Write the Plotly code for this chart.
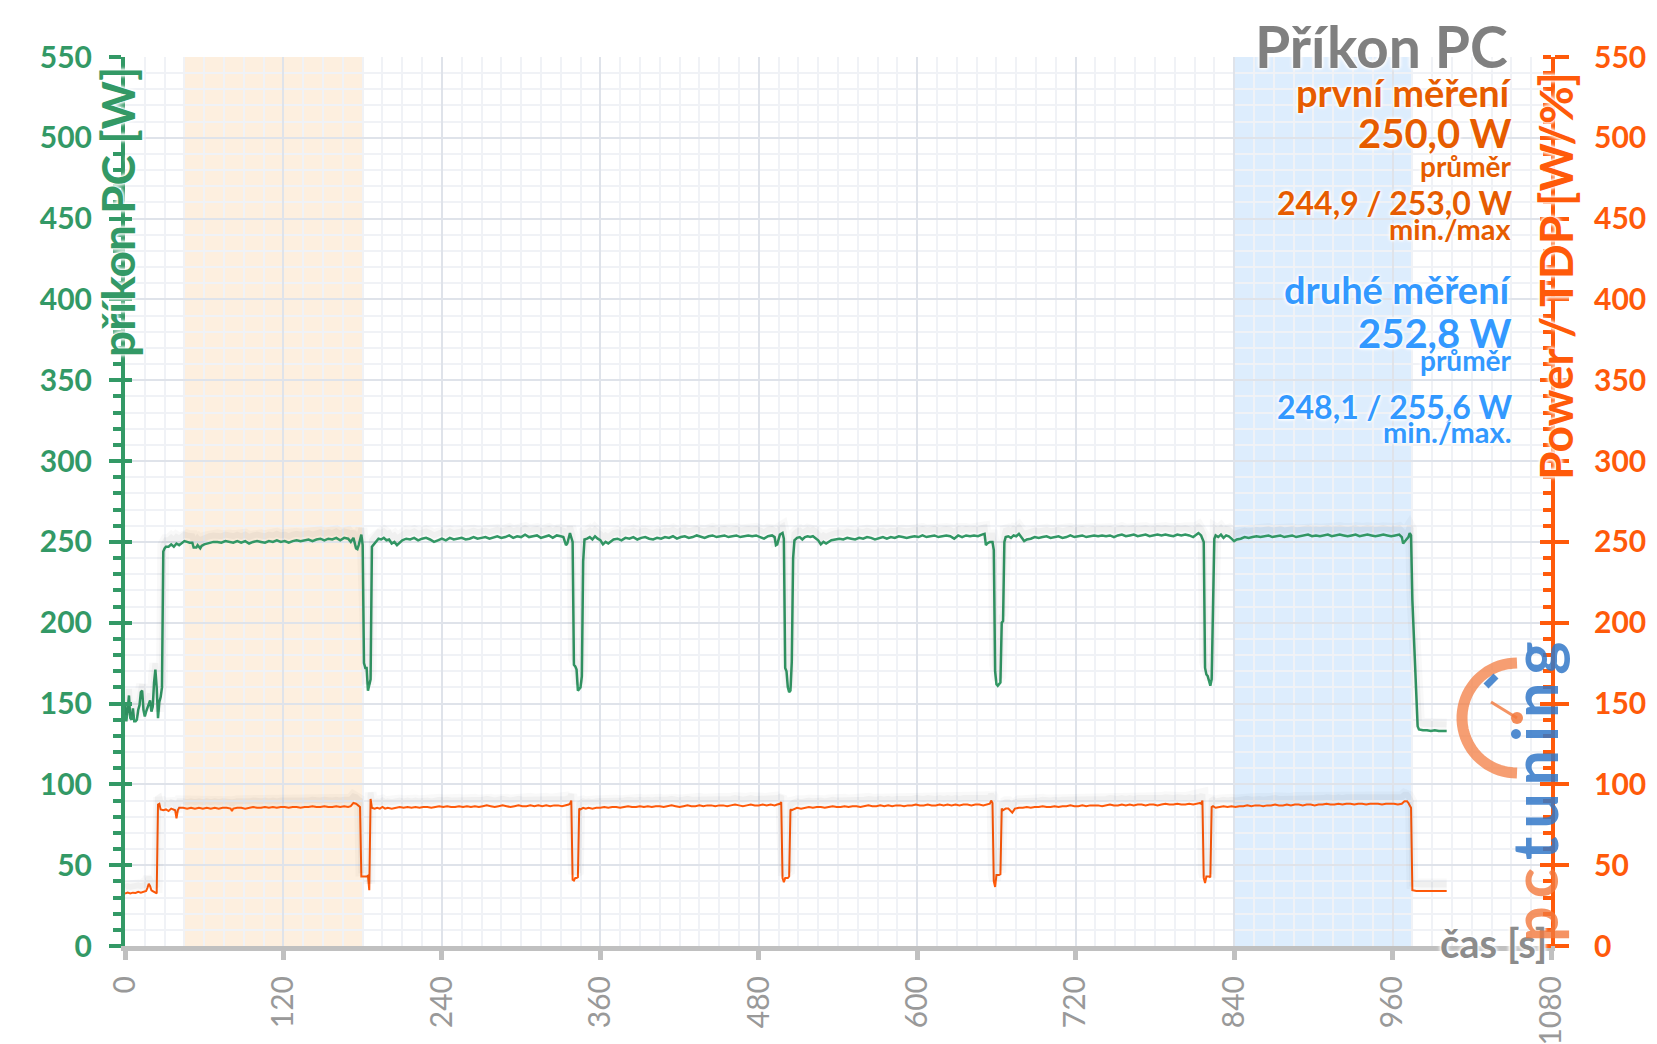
import numpy as np
import plotly.graph_objects as go

# ---------------- data ----------------
green_pts = [
 (0,150),(1,139),(2,146),(3,155),(4,141),(5,140),(6,147),(7,139),(8,139),(9,140),(10,146),(11,149),(12,157),(13,158),
 (14,146),(15,142),(16,145),(17,147),(18,150),(19,152),(20,145),(21,148),(22,163),(23,171),(24,160),(25,141),(26,151),
 (27,154),(28,160),
 (29,244),(30,246),(31,247),(33,247),(35,248.5),(37,247),(39,249),(41,248),(43,249.5),(45,250.5),(47,250),(49,249.5),
 (51,249.5),(52,246.5),(54,246.5),(55,248),(57,246),(58,247.5),(60,248.5),(62,249),(64,249.5),(67,250),(70,250),
 (73,249.5),(76,250.5),(79,250),(82,249.5),(85,250.5),(88,249.5),(91,250.5),(94,249),(97,250),(100,250.5),(103,250),
 (106,249.5),(109,250.5),(112,250),(115,251),(118,250),(121,250.5),(124,249.5),(127,250.5),(130,251),(133,250.5),
 (136,251),(139,251.5),(142,250.5),(145,251.5),(148,252),(151,251),(154,252),(157,251.5),(160,252.5),(163,251),
 (166,252.5),(169,252),(171,250),(173,252.5),(175,246),(176,245.5),(177,248),(178,252),(179,254.5),(180,248),
 (181,175),(182,172),(183,172),(184,158),(185,162),(186,165),(187,247),
 (188,248),(190,250),(192,252),(194,251.5),(196,252.5),(198,251),(200,251.5),(202,249),(204,250),(206,248),(208,249.5),
 (210,251),(213,252),(216,251.5),(219,252.5),(222,251),(225,252),(228,252.5),(231,251.5),(234,250),(237,251),(240,252),
 (243,251),(246,252.5),(249,251.5),(252,252),(255,252.5),(258,251.5),(261,252),(264,253),(267,252),(270,252.5),
 (273,253),(276,252),(279,253),(282,253.5),(285,252.5),(288,253),(291,254),(294,252.5),(297,253.5),(300,253),
 (303,254.5),(306,253),(309,253.5),(312,254),(315,252.5),(318,253.5),(321,254),(324,252.5),(327,254),(330,253.5),
 (332,253),(334,248),(335,249),(337,255.5),(338,253),(339,250),(340,174),(341,173),(342,171),(343,158),(345,160),
 (346,167),(347,238),(348,251.5),
 (350,252),(352,253),(354,251.5),(356,253.5),(358,252),(360,251),(362,248.5),(364,250),(366,249),(368,250.5),
 (370,251.5),(373,252),(376,251),(379,252.5),(382,252),(385,253),(388,251.5),(391,252.5),(394,253),(397,252),
 (400,251.5),(403,252.5),(406,252),(409,253),(412,252.5),(415,253.5),(418,252),(421,253),(424,253.5),(427,252.5),
 (430,253),(433,254),(436,253),(439,252.5),(442,253.5),(445,254),(448,253),(451,253.5),(454,254),(457,253),
 (460,253.5),(463,254),(466,253),(469,253.5),(472,254),(475,253.5),(478,254),(481,253),(484,252),(487,253.5),
 (490,254),(492,253),(493,248),(494,248.5),(496,254.5),(498,255.5),(499,252),(500,172),(501,170),(502,160),
 (503,157),(504,158),(505,176),(506,240),(507,251),
 (509,252.5),(511,253),(513,251.5),(515,253),(517,253.5),(519,253),(521,253.5),(523,252.5),(525,251),(527,248.5),
 (529,250),(531,249),(533,250),(535,251),(538,251.5),(541,252),(544,251.5),(547,252.5),(550,252),(553,251.5),
 (556,252.5),(559,252),(562,253),(565,252.5),(568,251.5),(571,252.5),(574,253),(577,252),(580,253),(583,252.5),
 (586,253.5),(589,253),(592,252.5),(595,253),(598,253.5),(601,253),(604,254),(607,253),(610,253.5),(613,254),
 (616,253),(619,253.5),(622,254),(625,253.5),(628,252),(631,254),(634,253),(637,254),(640,253.5),(643,254),
 (646,253.5),(649,254.5),(651,255),(652,248),(653,249),(655,250),(657,250),(658,245),(659,170),(660,162),(661,161),
 (662,162),(663,163),(664,200),(665,201),(666,250),(667,253),
 (669,253.5),(671,252.5),(673,254),(675,253.5),(677,255),(679,253),(681,250.5),(683,251.5),(686,252),(689,253),
 (692,252.5),(695,253),(698,253.5),(701,252.5),(704,253),(707,253.5),(710,252.5),(713,253),(716,254),(719,253),
 (722,253.5),(725,254),(728,253),(731,253.5),(734,254),(737,253.5),(740,254),(743,253.5),(746,254),(749,253),
 (752,254),(755,254.5),(758,253.5),(761,254),(764,254.5),(767,253.5),(770,254),(773,254.5),(776,253.5),(779,254),
 (782,254.5),(785,254),(788,254.5),(791,254),(794,253.5),(797,254.5),(800,254),(803,254.5),(806,254),(809,253),
 (811,254.5),(813,255.5),(815,254),(816,252),(817,250),(818,172),(819,168),(820,167),(821,163),(822,161),(823,165),
 (824,200),(825,252),(826,254),
 (828,253),(830,254.5),(832,252.5),(834,254),(836,253.5),(838,252),(840,250.5),(842,251.5),(845,252),(848,253),
 (851,252.5),(854,253),(857,253.5),(860,253),(863,253.5),(866,254),(869,253),(872,253.5),(875,254),(878,253),
 (881,253.5),(884,254),(887,253),(890,253.5),(893,254),(896,254.5),(899,253.5),(902,254),(905,253.5),(908,254),
 (911,254.5),(914,253.5),(917,254),(920,254.5),(923,254),(926,253.5),(929,254),(932,254.5),(935,253.5),(938,254),
 (941,254.5),(944,254),(947,253.5),(950,254),(953,254.5),(956,254),(959,253.5),(962,254),(965,254.5),(967,253),
 (968,249),(970,251),(972,253),(973,255.5),(974,254),(975,214),(976,195),(977,176),(978,155),(979,136),(980,134),
 (983,133.5),(986,133.5),(989,133),(992,133.5),(995,133),(998,133),(1001,133),
]

orange_pts = [
 (0,32.5),(2,33),(4,32.5),(6,33),(8,32.8),(10,33.5),(12,33),(14,33.5),(16,34),(17,36),(18,38.5),(19,37),(20,34.5),
 (21,34),(22,33.5),(23,32.5),(24,32.5),(25,87.5),(26,88),(27,84.5),(29,84),(31,84.5),(33,83.5),(35,85),(37,84.5),
 (38,84),(39,79),(40,84),(41,85.5),(44,85.5),(47,85),(50,85.5),(53,85),(56,85.5),(59,85),(62,85.5),(65,85),
 (68,85.5),(71,85),(74,85.5),(77,85.5),(80,85),(81,83.5),(82,85),(85,85.5),(88,85.5),(91,85),(94,85.5),(97,86),
 (100,85.5),(103,85.5),(106,86),(109,85.5),(112,86),(115,85.5),(118,86),(121,86),(124,85.5),(127,86),(130,86),
 (133,85.5),(136,86),(139,86),(142,86.5),(145,86),(148,86),(151,86.5),(154,86),(157,86),(160,86.5),(163,86),
 (166,86.5),(169,86),(171,86.5),(173,88.5),(175,88),(177,86.5),(178,86),(179,43),(181,43),(183,43),(184,43.5),
 (185,34.5),(186,91),(187,85.5),
 (189,85),(191,85.5),(193,85),(195,86),(197,85),(199,85.5),(202,85),(205,85.5),(208,86),(211,85.5),(214,86),
 (217,85.5),(220,86),(223,85.5),(226,86),(229,86),(232,85.5),(235,86),(238,86.5),(241,86),(244,86.5),(247,86),
 (250,86),(253,86.5),(256,86),(259,86.5),(262,86),(265,86.5),(268,86),(271,86.5),(274,87),(277,86.5),(280,86),
 (283,86.5),(286,87),(289,86.5),(292,86),(295,86.5),(298,87),(301,86.5),(304,86.5),(307,87),(310,86.5),(313,87),
 (316,86.5),(319,87),(322,86.5),(325,87),(328,87),(331,86.5),(334,87),(336,87.5),(337,88),(338,90),(339,41),
 (340,40.5),(341,42),(342,42),(343,42.5),(344,85),(345,84.5),(347,85.5),(349,85),
 (351,85.5),(354,85),(357,85.5),(360,85.5),(363,86),(366,85.5),(369,86),(372,86),(375,85.5),(378,86),(381,86.5),
 (384,86),(387,86),(390,86.5),(393,86),(396,86.5),(399,86),(402,86.5),(405,86.5),(408,86),(411,86.5),(414,87),
 (417,86.5),(420,86),(423,86.5),(426,87),(429,86.5),(432,86.5),(435,87),(438,86.5),(441,87),(444,87),(447,86.5),
 (450,87),(453,87),(456,86.5),(459,87),(462,87.5),(465,87),(468,86.5),(471,87),(474,87.5),(477,87),(480,87),
 (483,87.5),(486,87),(489,87.5),(492,87),(494,87.5),(496,88),(497,89),(498,42),(499,39.5),(500,42),(501,42),
 (502,42),(503,43),(504,84.5),(505,84),(507,85),
 (509,85.5),(512,85),(515,85.5),(518,86),(521,85.5),(524,86),(527,86),(530,85.5),(533,86),(536,86.5),(539,86),
 (542,86),(545,86.5),(548,86),(551,86.5),(554,86.5),(557,86),(560,86.5),(563,87),(566,86.5),(569,86.5),(572,87),
 (575,86.5),(578,87),(581,86.5),(584,87),(587,87),(590,86.5),(593,87),(596,87),(599,87.5),(602,87),(605,87),
 (608,87.5),(611,87),(614,87),(617,87.5),(620,87),(623,87.5),(626,87),(629,87.5),(632,87),(635,87.5),(638,87.5),
 (641,87),(644,87.5),(647,87.5),(650,87),(653,87.5),(655,88),(656,90),(657,88.5),(658,40),(659,36.5),(660,44),
 (661,44),(662,44),(663,44.5),(664,85),(665,84),(667,85),
 (669,85),(672,82.5),(674,85),(677,85.5),(680,85.5),(683,86),(686,85.5),(689,86),(692,86),(695,86.5),(698,86),
 (701,86),(704,86.5),(707,86),(710,86.5),(713,86.5),(716,87),(719,86.5),(722,86.5),(725,87),(728,86.5),(731,87),
 (734,87),(737,87),(740,86.5),(743,87),(746,87.5),(749,87),(752,87),(755,87.5),(758,87),(761,87.5),(764,87),
 (767,87.5),(770,87.5),(773,87),(776,87.5),(779,87.5),(782,87),(785,87.5),(788,88),(791,87.5),(794,87.5),(797,88),
 (800,87.5),(803,87.5),(806,88),(809,87.5),(812,88),(814,88.5),(815,88),(816,90),(817,42),(818,39),(819,43),
 (820,43),(821,43),(822,42.5),(823,86),(824,86.5),(826,85.5),
 (829,86),(832,86.5),(835,86),(838,86.5),(841,86),(844,86.5),(847,86.5),(850,87),(853,86.5),(856,87),(859,87),
 (862,86.5),(865,87),(868,87),(871,87.5),(874,87),(877,87),(880,87.5),(883,87),(886,87.5),(889,87.5),(892,87),
 (895,87.5),(898,87.5),(901,87),(904,87.5),(907,87.5),(910,88),(913,87.5),(916,87.5),(919,88),(922,87.5),(925,88),
 (928,88),(931,87.5),(934,88),(937,88),(940,87.5),(943,88),(946,88),(949,88),(952,87.5),(955,88),(958,88),(961,88),
 (964,87.5),(967,88),(969,89.5),(971,89.5),(972,88.5),(974,85.5),(975,34.5),(978,34),(982,34),(986,34),(990,34),
 (995,34),(1001,34),
]

green_t = [p[0] for p in green_pts]
green_w = [p[1] for p in green_pts]
orange_t = [p[0] for p in orange_pts]
orange_w = [p[1] for p in orange_pts]

band_first = (45, 180)
band_second = (840, 975)
x_ticks = [0, 120, 240, 360, 480, 600, 720, 840, 960, 1080]

# ---------------- styling ----------------
GREEN = "#339966"
ORANGE = "#ff5a0a"
ORANGE_TXT = "#e65c00"
BLUE_TXT = "#3399ff"
GREY_TXT = "#808080"
FONT = "Lato"
GLOW = "0px 0px 3px white, 0px 0px 3px white, 0px 0px 4px white, 0px 0px 5px white"

W, H = 1657, 1044
L, R, T, B = 125, 106, 57, 98
PW, PH = W - L - R, H - T - B

def px(x):
    return (x - L) / PW

def py(y):
    return (H - B - y) / PH

fig = go.Figure()

# soft shadows under the lines (shifted axis)
for wdt, a in [(12, 0.025), (6, 0.035)]:
    fig.add_trace(go.Scatter(x=green_t, y=green_w, mode="lines", yaxis="y5",
                             line=dict(color=f"rgba(0,0,0,{a})", width=wdt), hoverinfo="skip", showlegend=False))
    fig.add_trace(go.Scatter(x=orange_t, y=orange_w, mode="lines", yaxis="y5",
                             line=dict(color=f"rgba(0,0,0,{a})", width=wdt), hoverinfo="skip", showlegend=False))

fig.add_trace(go.Scatter(x=green_t, y=green_w, mode="lines", name="příkon PC",
                         line=dict(color=GREEN, width=2.5), showlegend=False))
fig.add_trace(go.Scatter(x=orange_t, y=orange_w, mode="lines", name="Power / TDP", yaxis="y2",
                         line=dict(color=ORANGE, width=2), showlegend=False))
# carriers for the inner tick halves
fig.add_trace(go.Scatter(x=green_t, y=green_w, mode="lines", yaxis="y3", opacity=0,
                         line=dict(width=1), hoverinfo="skip", showlegend=False))
fig.add_trace(go.Scatter(x=orange_t, y=orange_w, mode="lines", yaxis="y4", opacity=0,
                         line=dict(width=1), hoverinfo="skip", showlegend=False))

shapes = [
    dict(type="rect", xref="x", yref="paper", x0=band_first[0], x1=band_first[1], y0=0, y1=1,
         fillcolor="rgba(250,215,175,0.40)", line=dict(width=0), layer="between"),
    dict(type="rect", xref="x", yref="paper", x0=band_second[0], x1=band_second[1], y0=0, y1=1,
         fillcolor="rgba(170,210,250,0.40)", line=dict(width=0), layer="between"),
]

# pctuning logo gauge (decoration)
cx, cy, rad = 1517, 718, 55
ang = np.linspace(np.pi / 2, 3 * np.pi / 2, 40)
arc = "M " + " L ".join(f"{px(cx + rad*np.cos(a)):.5f},{py(cy - rad*np.sin(a)):.5f}" for a in ang)
shapes.append(dict(type="path", xref="paper", yref="paper", path=arc,
                   line=dict(color="rgba(242,120,60,0.72)", width=11), layer="above"))
shapes.append(dict(type="line", xref="paper", yref="paper", x0=px(cx), y0=py(cy), x1=px(1491), y1=py(702),
                   line=dict(color="rgba(242,120,60,0.8)", width=3), layer="above"))
shapes.append(dict(type="circle", xref="paper", yref="paper", x0=px(cx - 6), x1=px(cx + 6),
                   y0=py(cy + 6), y1=py(cy - 6), fillcolor="rgba(242,120,60,0.85)", line=dict(width=0), layer="above"))
shapes.append(dict(type="line", xref="paper", yref="paper", x0=px(1486), y0=py(686), x1=px(1496), y1=py(676),
                   line=dict(color="rgba(50,120,200,0.85)", width=7), layer="above"))

ann = []
def txt(s, x, y, size, color, anchor="right", angle=0, weight="bold"):
    ann.append(dict(text=s, xref="paper", yref="paper", x=px(x), y=py(y), xanchor=anchor, yanchor="middle",
                    showarrow=False, textangle=angle,
                    font=dict(family=FONT, size=size, color=color, weight=weight, shadow=GLOW)))

RX = 1514
txt("Příkon PC", 1510, 46, 57, GREY_TXT)
txt("první měření", RX, 92, 38, ORANGE_TXT)
txt("250,0 W", RX, 133, 40, ORANGE_TXT)
txt("průměr", RX, 166, 28, ORANGE_TXT)
txt("244,9 / 253,0 W", RX, 203, 32, ORANGE_TXT)
txt("min./max", RX, 228, 29, ORANGE_TXT)
txt("druhé měření", RX, 289, 38, BLUE_TXT)
txt("252,8 W", RX, 333, 40, BLUE_TXT)
txt("průměr", RX, 360, 28, BLUE_TXT)
txt("248,1 / 255,6 W", RX, 407, 32, BLUE_TXT)
txt("min./max.", RX, 431, 29, BLUE_TXT)
txt("čas [s]", 1549, 943, 40, "#8c8c8c")
txt("příkon PC [W]", 117, 212, 46, GREEN, anchor="center", angle=-90)
txt("Power / TDP [W/%]", 1555, 276, 46, ORANGE, anchor="center", angle=-90)

# logo word
TS = "\u2009"
ann.append(dict(text="<span style='color:rgba(242,120,60,0.8)'>" + TS.join("pc") + TS + "</span>"
                     "<span style='color:rgba(50,120,200,0.85)'>" + TS.join("tuning") + "</span>",
                xref="paper", yref="paper", x=px(1533), y=py(792), xanchor="center", yanchor="middle",
                showarrow=False, textangle=-90, font=dict(family=FONT, size=63, weight="bold")))

yaxis_common = dict(range=[0, 550], dtick=50, tick0=0, fixedrange=True, zeroline=False, automargin=False)

fig.update_layout(
    width=W, height=H, margin=dict(l=L, r=R, t=T, b=B, autoexpand=False),
    paper_bgcolor="white", plot_bgcolor="white",
    shapes=shapes, annotations=ann,
    xaxis=dict(range=[0, 1080], tickvals=x_ticks, ticktext=[str(v) for v in x_ticks], tickangle=-90,
               showline=True, linecolor="#c0c0c0", linewidth=5, automargin=False,
               ticks="outside", ticklen=9, tickwidth=5, tickcolor="#c0c0c0", ticklabelstandoff=4,
               tickfont=dict(family=FONT, size=30, color="#999999"),
               showgrid=True, gridcolor="#dfe3ea", gridwidth=2, zeroline=False,
               minor=dict(dtick=15, tick0=0, showgrid=True, gridcolor="#f0f2f6", gridwidth=2, ticks=""),
               fixedrange=True),
    yaxis=dict(**yaxis_common, side="left", showline=True, linecolor=GREEN, linewidth=4,
               ticks="outside", ticklen=12, tickwidth=4, tickcolor=GREEN, ticklabelstandoff=11,
               tickfont=dict(family=FONT, size=30, color=GREEN, weight="bold"),
               showgrid=True, gridcolor="#dfe3ea", gridwidth=2,
               minor=dict(dtick=10, tick0=0, ticks="outside", ticklen=8, tickwidth=4, tickcolor=GREEN,
                          showgrid=True, gridcolor="#f0f2f6", gridwidth=2)),
    yaxis2=dict(**yaxis_common, overlaying="y", side="right", anchor="x", showline=True, linecolor=ORANGE,
                linewidth=4, ticks="outside", ticklen=14, tickwidth=4, tickcolor=ORANGE, ticklabelstandoff=19,
                tickfont=dict(family=FONT, size=30, color=ORANGE, weight="bold"), showgrid=False,
                minor=dict(dtick=10, tick0=0, ticks="inside", ticklen=8, tickwidth=4, tickcolor=ORANGE,
                           showgrid=False)),
    yaxis3=dict(**yaxis_common, overlaying="y", side="left", anchor="x", showline=False, showgrid=False,
                ticks="inside", ticklen=7, tickwidth=4, tickcolor=GREEN, showticklabels=False),
    yaxis4=dict(**yaxis_common, overlaying="y", side="right", anchor="x", showline=False, showgrid=False,
                ticks="inside", ticklen=11, tickwidth=4, tickcolor=ORANGE, showticklabels=False),
    yaxis5=dict(range=[-4, 546], overlaying="y", visible=False, fixedrange=True, automargin=False),
    showlegend=False,
)

fig.write_html("out.html")
